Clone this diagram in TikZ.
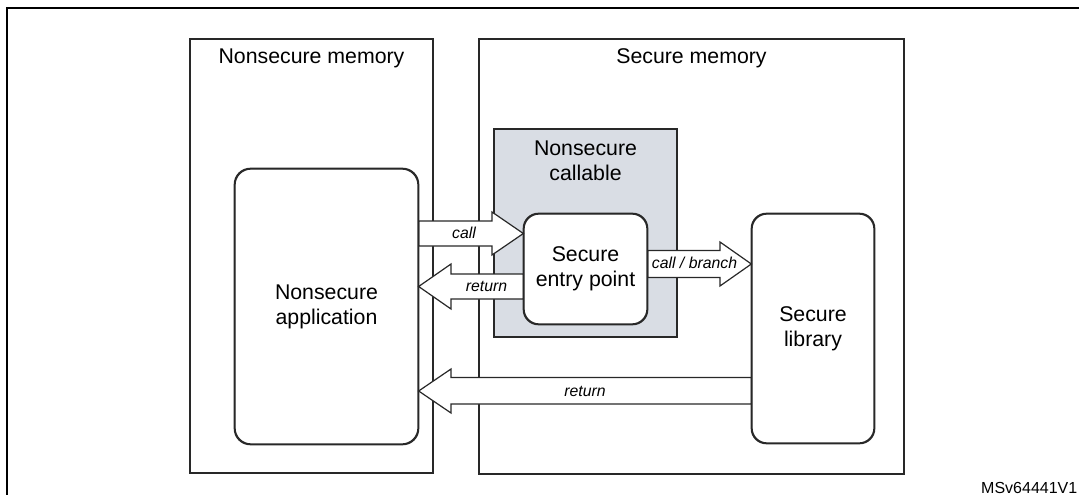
\documentclass[tikz,border=0pt]{standalone}
\usepackage{fontspec}
\setmainfont{Liberation Sans}
\definecolor{ncgray}{RGB}{217,221,228}
\definecolor{edge}{RGB}{40,40,40}
\tikzset{
  membox/.style={draw=edge, line width=1.3pt, rectangle, inner sep=0pt},
  roundbox/.style={draw=edge, line width=1.3pt, rectangle, rounded corners=16pt, fill=white, inner sep=0pt, align=center, font=\fontsize{21.3}{25}\selectfont},
  ttl/.style={font=\fontsize{21.3}{25}\selectfont, align=center, inner sep=0pt},
  fat/.style={draw=edge, line width=1.2pt, fill=white, line join=miter},
  lab/.style={font=\fontsize{15.8}{18}\selectfont\itshape, inner sep=0pt}
}
\begin{document}
\begin{tikzpicture}[x=1pt,y=-1pt]
\useasboundingbox (0,0) rectangle (1079,495);
\clip (0,0) rectangle (1079,495);
% outer frame
\draw[line width=2pt, black] (7,520) -- (7,8) -- (1100,8);
% memory regions
\node[membox, minimum width=243pt, minimum height=434pt] (nsmem) at (311.5,256) {};
\node[membox, minimum width=425pt, minimum height=435pt] (smem) at (691.5,256.5) {};
\node[ttl] (nsmemt) at (311.5,58) {Nonsecure memory};
\node[ttl] (smemt) at (691.5,58) {Secure memory};
% nonsecure callable
\node[membox, fill=ncgray, minimum width=183pt, minimum height=208pt] (nsc) at (585.5,233) {};
\node[ttl] (nsct) at (585.5,160.5) {Nonsecure\\callable};
% rounded nodes
\node[roundbox, minimum width=183pt, minimum height=275pt] (app) at (326.5,306.5) {Nonsecure\\application};
\node[roundbox, minimum width=123pt, minimum height=110pt, rounded corners=15pt] (sep) at (585.5,269) {Secure\\entry point};
\node[roundbox, minimum width=122pt, minimum height=229pt, rounded corners=15pt] (lib) at (813,328.5) {Secure\\library};
% call arrow
\draw[fat] (app.east |- 0,221) -- (492,221) -- (492,212) -- (sep.west |- 0,233.5) -- (492,255) -- (492,246) -- (app.east |- 0,246) -- cycle;
\node[lab] (callt) at (464,233) {call};
% small return arrow
\draw[fat] (sep.west |- 0,274) -- (451,274) -- (451,264) -- (app.east |- 0,286.5) -- (451,309) -- (451,299) -- (sep.west |- 0,299) -- cycle;
\node[lab] (rett) at (486.5,286) {return};
% call / branch arrow
\draw[fat] (sep.east |- 0,250.5) -- (720,250.5) -- (720,242) -- (lib.west |- 0,264) -- (720,286) -- (720,277.5) -- (sep.east |- 0,277.5) -- cycle;
\node[lab] (cbt) at (694.5,263) {call / branch};
% big return arrow
\draw[fat] (lib.west |- 0,377.5) -- (451,377.5) -- (451,369) -- (app.east |- 0,391) -- (451,413) -- (451,404) -- (lib.west |- 0,404) -- cycle;
\node[lab] (ret2t) at (585,391.5) {return};
% redraw node borders on top
\draw[edge, line width=1.3pt, rounded corners=16pt] (app.south west) rectangle (app.north east);
\draw[edge, line width=1.3pt, rounded corners=15pt] (sep.south west) rectangle (sep.north east);
\draw[edge, line width=1.3pt, rounded corners=15pt] (lib.south west) rectangle (lib.north east);
% figure id
\node[font=\fontsize{16}{19}\selectfont, anchor=east, inner sep=0pt] (figid) at (1077.5,488) {MSv64441V1};
\end{tikzpicture}
\end{document}
